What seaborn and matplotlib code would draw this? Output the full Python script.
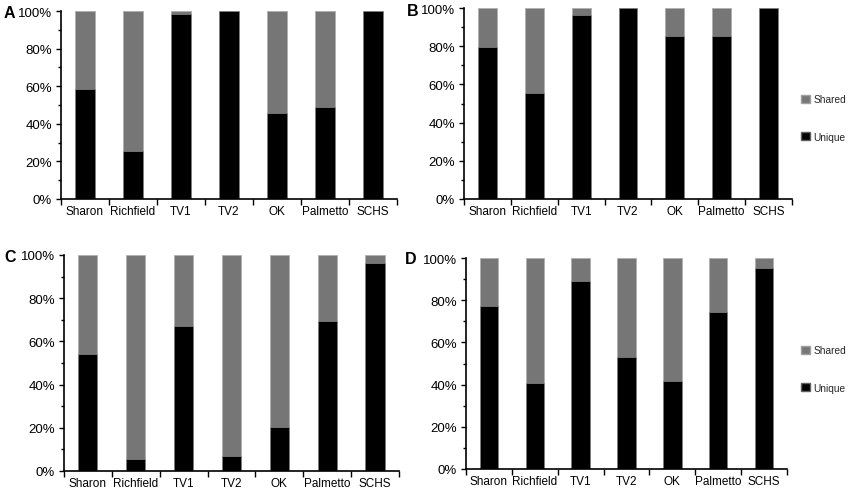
import matplotlib
matplotlib.use("Agg")
import matplotlib.pyplot as plt
import seaborn as sns
import pandas as pd
from matplotlib.ticker import PercentFormatter, MultipleLocator, FixedLocator
from matplotlib.patches import Patch

sns.set_theme(style="white")
plt.rcParams['font.family'] = ['Liberation Sans', 'DejaVu Sans']

categories = ["Sharon", "Richfield", "TV1", "TV2", "OK", "Palmetto", "SCHS"]
unique_A = [58.4, 25.5, 98.6, 100, 45.7, 49.2, 100]
unique_B = [79.4, 55.3, 96.5, 100, 85.5, 85.2, 100]
unique_C = [54.2, 5.4, 67.0, 6.9, 20.3, 69.6, 96.1]
unique_D = [77.2, 40.7, 88.9, 53.3, 41.6, 74.5, 95.3]
total = [100] * len(categories)
panel_letters = ["A", "B", "C", "D"]

SHARED = "#767676"
UNIQUE = "#000000"

W, H = 850, 489
fig = plt.figure(figsize=(8.5, 4.89), dpi=100)

# pixel boxes: left, right, top, bottom
boxes = [(61, 397, 12, 200), (464, 792, 9, 200), (64, 399, 256, 472), (466, 787, 259, 470)]
letter_pos = [(4, 13), (407, 11), (4, 258), (405, 259)]
legend_centers = {1: (100 + 138) / 2, 3: (351 + 389) / 2}
datasets = [unique_A, unique_B, unique_C, unique_D]

for i, (box, uniq) in enumerate(zip(boxes, datasets)):
    l, r, t, b = box
    ax = fig.add_axes([l / W, 1 - b / H, (r - l) / W, (b - t) / H])
    df = pd.DataFrame({"site": categories, "total": total, "unique": uniq})
    sns.barplot(data=df, x="site", y="total", color=SHARED, width=0.4, ax=ax,
                edgecolor="#b0b0b0", linewidth=0.6, saturation=1)
    sns.barplot(data=df, x="site", y="unique", color=UNIQUE, width=0.4, ax=ax,
                edgecolor="#9a9a9a", linewidth=0.4, saturation=1)
    ax.set_xlim(-0.5, len(categories) - 0.5)
    ax.set_ylim(0, 100)
    ax.set_xlabel("")
    ax.set_ylabel("")
    ax.yaxis.set_major_locator(MultipleLocator(20))
    ax.yaxis.set_minor_locator(MultipleLocator(10))
    ax.yaxis.set_major_formatter(PercentFormatter(decimals=0))
    ax.xaxis.set_minor_locator(FixedLocator([k - 0.5 for k in range(len(categories) + 1)]))
    ax.tick_params(axis="x", which="major", length=0, labelsize=8.5, pad=4, colors="black")
    ax.tick_params(axis="x", which="minor", length=4, width=1, direction="out", bottom=True, color="black")
    ax.tick_params(axis="y", which="major", length=3.5, width=1, direction="out", left=True,
                   labelsize=9.5, pad=3, color="black", labelcolor="black")
    ax.tick_params(axis="y", which="minor", length=2.5, width=1, direction="out", left=True, color="black")
    for s in ["top", "right"]:
        ax.spines[s].set_visible(False)
    for s in ["left", "bottom"]:
        ax.spines[s].set_color("black")
        ax.spines[s].set_linewidth(1.2)
    ax.patch.set_alpha(0)
    if i in legend_centers:
        handles = [Patch(facecolor=SHARED, edgecolor="#a0a0a0", label="Shared"),
                   Patch(facecolor=UNIQUE, edgecolor="#606060", label="Unique")]
        fig.legend(handles=handles, loc="center left",
                   bbox_to_anchor=(801 / W, 1 - legend_centers[i] / H), frameon=False,
                   handlelength=0.9, handleheight=0.9, handletextpad=0.35,
                   labelspacing=2.7, fontsize=7.3, borderpad=0, borderaxespad=0)

for lt, (lx, ly) in zip(panel_letters, letter_pos):
    fig.text(lx / W, 1 - ly / H, lt, fontsize=11.5, fontweight="bold", ha="left", va="center",
             color="black")

fig.savefig("out.png", dpi=100)
